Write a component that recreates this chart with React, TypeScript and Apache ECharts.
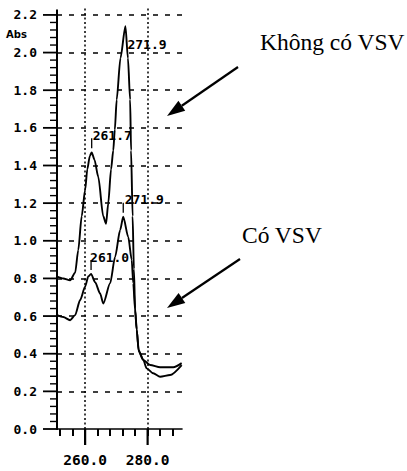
import React, { useEffect, useRef } from "react";
import * as echarts from "echarts";

// Curve "Không có VSV" (without microorganisms)
const wavelengthsA = [251.0, 253.0, 255.2, 256.8, 257.8, 258.9, 260.0, 260.7, 261.5, 262.1, 263.0, 264.2, 265.8, 266.7, 267.4, 268.3, 269.0, 269.5, 270.1, 271.3, 272.9, 273.7, 274.4, 274.7, 275.2, 275.6, 276.0, 276.5, 277.1, 278.6, 280.8, 284.0, 288.2, 290.9];
const absA = [0.81, 0.80, 0.79, 0.83, 0.95, 1.13, 1.27, 1.38, 1.45, 1.47, 1.43, 1.34, 1.13, 1.09, 1.20, 1.38, 1.48, 1.59, 1.75, 1.97, 2.14, 1.97, 1.75, 1.48, 1.13, 0.85, 0.64, 0.53, 0.42, 0.367, 0.34, 0.328, 0.328, 0.35];

// Curve "Có VSV" (with microorganisms)
const wavelengthsB = [251.0, 253.0, 255.2, 256.8, 258.4, 260.0, 261.0, 261.9, 263.2, 264.8, 265.8, 268.0, 269.6, 271.2, 272.2, 273.8, 274.9, 275.4, 276.0, 276.5, 277.2, 278.6, 279.7, 281.8, 284.0, 287.2, 290.9];
const absB = [0.605, 0.595, 0.578, 0.605, 0.685, 0.756, 0.81, 0.824, 0.78, 0.72, 0.667, 0.774, 0.915, 1.057, 1.128, 1.02, 0.90, 0.774, 0.63, 0.526, 0.41, 0.367, 0.322, 0.296, 0.278, 0.287, 0.34];

// Peak annotations
const peakLabelsA = ["261.7", "271.9"];
const peakXA = [262.1, 272.9];
const peakYA = [1.47, 2.14];
const peakLabelsB = ["261.0", "271.9"];
const peakXB = [261.9, 272.2];
const peakYB = [0.824, 1.128];

// Axis ticks / grid lines
const yMajorTicks = [0, 0.2, 0.4, 0.6, 0.8, 1.0, 1.2, 1.4, 1.6, 1.8, 2.0, 2.2];
const yMinorTicks = yMajorTicks.slice(0, -1).flatMap((v) => [1, 2, 3, 4].map((k) => +(v + k * 0.04).toFixed(2)));
const xMajorTicks = [260, 280];
const xAllTicks = [252, 256, 260, 264, 268, 272, 276, 280, 284, 288];
const X_MIN = 251;
const X_MAX = 291;
const Y_MIN = 0;
const Y_MAX = 2.24;

const annotationTexts = ["Không có VSV", "Có VSV"];

const GRID = { left: 57, top: 7.4, width: 125, height: 421.6 };
const BLACK = "#000";
const MONO = "'DejaVu Sans Mono', monospace";

// same linear mapping as the grid's value axes (used for tick decorations only)
const yPx = (v: number) => GRID.top + GRID.height * (1 - (v - Y_MIN) / (Y_MAX - Y_MIN));
const xPx = (v: number) => GRID.left + GRID.width * ((v - X_MIN) / (X_MAX - X_MIN));

function arrow(x1: number, y1: number, tipX: number, tipY: number) {
  const dx = x1 - tipX;
  const dy = y1 - tipY;
  const len = Math.hypot(dx, dy);
  const ux = dx / len;
  const uy = dy / len;
  const L = 18;
  const W = 6;
  const bx = tipX + ux * L;
  const by = tipY + uy * L;
  return [
    {
      type: "line",
      shape: { x1, y1, x2: bx, y2: by },
      style: { stroke: BLACK, lineWidth: 2.2 },
    },
    {
      type: "polygon",
      shape: {
        points: [
          [tipX, tipY],
          [bx + -uy * W, by + ux * W],
          [bx + uy * W, by - ux * W],
        ],
      },
      style: { fill: BLACK },
    },
  ];
}

export default function App() {
  const ref = useRef<HTMLDivElement>(null);

  useEffect(() => {
    if (!ref.current) return;
    const chart = echarts.init(ref.current, undefined, { renderer: "svg" });

    const peakLabel = {
      show: true,
      position: "inside",
      align: "left",
      verticalAlign: "middle",
      fontFamily: MONO,
      fontWeight: "bold",
      fontSize: 13,
      color: BLACK,
      textBorderWidth: 0,
      formatter: (p: any) => p.name,
    };

    const x0 = xPx(X_MIN);
    const yBottom = yPx(Y_MIN);
    const yTop = yPx(Y_MAX);

    const axisGraphics: any[] = [
      {
        type: "line",
        shape: { x1: x0, y1: yBottom + 1, x2: x0, y2: yTop + 2 },
        style: { stroke: BLACK, lineWidth: 2 },
      },
      ...yMajorTicks.map((v) => ({
        type: "line",
        shape: { x1: x0 - 14, y1: yPx(v), x2: x0, y2: yPx(v) },
        style: { stroke: BLACK, lineWidth: 1.8 },
      })),
      ...yMinorTicks.map((v) => ({
        type: "line",
        shape: { x1: x0 - 7, y1: yPx(v), x2: x0, y2: yPx(v) },
        style: { stroke: BLACK, lineWidth: 1.4 },
      })),
      ...xMajorTicks.map((v) => ({
        type: "line",
        shape: { x1: xPx(v), y1: yBottom, x2: xPx(v), y2: yBottom + 16 },
        style: { stroke: BLACK, lineWidth: 2.2 },
      })),
    ];

    const option: any = {
      animation: false,
      backgroundColor: "#fff",
      grid: { ...GRID },
      xAxis: {
        type: "value",
        min: X_MIN,
        max: X_MAX,
        position: "bottom",
        axisLine: { show: true, onZero: false, lineStyle: { color: BLACK, width: 1.6 } },
        axisTick: { show: true, customValues: xAllTicks, length: 7, lineStyle: { color: BLACK, width: 2 } },
        axisLabel: {
          show: true,
          customValues: xMajorTicks,
          formatter: (v: number) => v.toFixed(1),
          margin: 23,
          fontFamily: MONO,
          fontWeight: "bold",
          fontSize: 14.5,
          color: BLACK,
        },
        splitLine: { show: false },
      },
      yAxis: {
        type: "value",
        min: Y_MIN,
        max: Y_MAX,
        position: "left",
        axisLine: { show: false, onZero: false },
        axisTick: { show: false },
        axisLabel: {
          show: true,
          customValues: yMajorTicks,
          formatter: (v: number) => v.toFixed(1),
          margin: 20,
          fontFamily: MONO,
          fontWeight: "bold",
          fontSize: 13,
          color: BLACK,
        },
        splitLine: { show: false },
      },
      series: [
        {
          name: annotationTexts[0],
          type: "line",
          data: wavelengthsA.map((x, i) => [x, absA[i]]),
          showSymbol: false,
          smooth: 0.25,
          smoothMonotone: "x",
          lineStyle: { color: BLACK, width: 1.9 },
          z: 5,
          markPoint: {
            symbol: "rect",
            symbolSize: [1.3, 10],
            symbolOffset: [0, -9],
            itemStyle: { color: BLACK },
            label: peakLabel,
            data: [
              { name: peakLabelsA[0], coord: [peakXA[0], peakYA[0]], label: { offset: [1, -8] } },
              {
                name: peakLabelsA[1],
                coord: [peakXA[1], peakYA[1]],
                symbolSize: [0, 0],
                symbolOffset: [0, 0],
                label: { offset: [2, 18] },
              },
            ],
          },
          markLine: {
            silent: true,
            symbol: "none",
            label: { show: false },
            lineStyle: { color: BLACK, type: [2, 2.5], width: 1.5 },
            data: xMajorTicks.map((v) => ({ xAxis: v })),
          },
        },
        {
          name: annotationTexts[1],
          type: "line",
          data: wavelengthsB.map((x, i) => [x, absB[i]]),
          showSymbol: false,
          smooth: 0.25,
          smoothMonotone: "x",
          lineStyle: { color: BLACK, width: 1.9 },
          z: 5,
          markPoint: {
            symbol: "rect",
            symbolSize: [1.3, 10],
            symbolOffset: [0, -9],
            itemStyle: { color: BLACK },
            label: peakLabel,
            data: [
              { name: peakLabelsB[0], coord: [peakXB[0], peakYB[0]], label: { offset: [-1, -7] } },
              { name: peakLabelsB[1], coord: [peakXB[1], peakYB[1]], label: { offset: [1.5, -8] } },
            ],
          },
          markLine: {
            silent: true,
            symbol: "none",
            label: { show: false },
            lineStyle: { color: BLACK, type: [5, 7], width: 1.5 },
            data: yMajorTicks.slice(1).map((v) => ({ yAxis: v })),
          },
        },
      ],
      graphic: [
        {
          type: "text",
          left: 6,
          top: 29,
          style: { text: "Abs", fontFamily: "'DejaVu Sans', sans-serif", fontWeight: "bold", fontSize: 10, fill: BLACK },
        },
        {
          type: "text",
          x: 260,
          y: 41.8,
          style: {
            text: annotationTexts[0],
            fontFamily: "'Liberation Serif', serif",
            fontSize: 23.5,
            fill: BLACK,
            align: "left",
            verticalAlign: "middle",
          },
        },
        {
          type: "text",
          x: 242,
          y: 234.8,
          style: {
            text: annotationTexts[1],
            fontFamily: "'Liberation Serif', serif",
            fontSize: 23.5,
            fill: BLACK,
            align: "left",
            verticalAlign: "middle",
          },
        },
        ...arrow(238, 67, 167, 116),
        ...arrow(240, 259, 167, 308),
        ...axisGraphics,
      ],
    };

    chart.setOption(option);
    return () => chart.dispose();
  }, []);

  return (
    <div
      ref={ref}
      style={{ position: "absolute", left: 0, top: 0, width: 407, height: 471, background: "#fff" }}
    />
  );
}
